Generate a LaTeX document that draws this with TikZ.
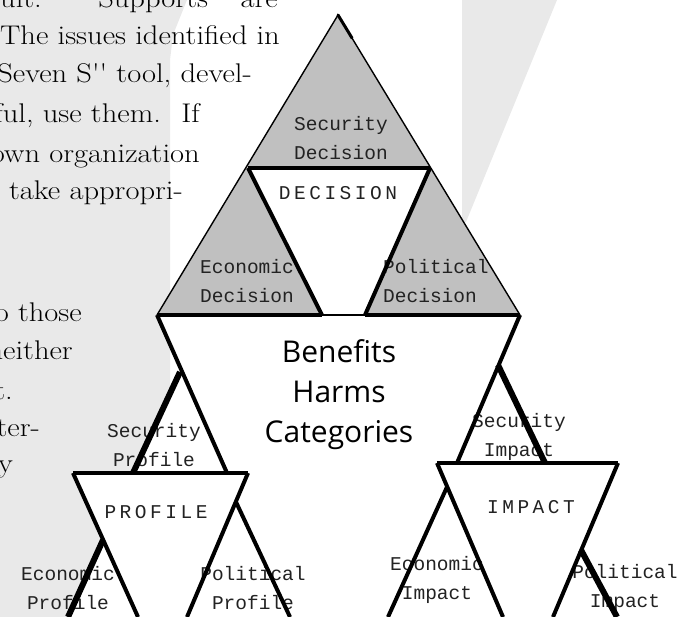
\documentclass[tikz,border=0pt]{standalone}
\usepackage{fontspec}
\newfontfamily\bodyfont[FakeStretch=1.13]{Latin Modern Roman}
\newfontfamily\labfont{Liberation Mono}
\newfontfamily\capfont[LetterSpace=18]{Liberation Mono}
\newfontfamily\bigfont{Open Sans}
\definecolor{bgray}{HTML}{E9E9E9}
\definecolor{tgray}{HTML}{C0C0C0}
\definecolor{labcol}{HTML}{222222}
\begin{document}
\begin{tikzpicture}[x=1pt,y=-1pt,
  body/.style={font=\bodyfont\fontsize{27}{38}\selectfont, anchor=base east, inner sep=0},
  lab/.style={font=\labfont\fontsize{19.5}{29}\selectfont, text=labcol, align=center, inner sep=0},
  capl/.style={font=\capfont\fontsize{19.5}{29}\selectfont, text=labcol, inner sep=0},
  big/.style={font=\bigfont\fontsize{30}{40}\selectfont, align=center, inner sep=0},
  thinl/.style={line width=1.4pt},
  hline/.style={line width=3.2pt},
  thickl/.style={line width=4pt},
  heavy/.style={line width=6pt}]
\useasboundingbox (0,0) rectangle (683,617);
\clip (0,0) rectangle (683,617);
% background watermark shapes
\fill[bgray] (0,0) -- (187,0) -- (173,35) -- (170,60) -- (170,617) -- (0,617) -- cycle;
\fill[bgray] (462,0) -- (557,0) -- (466,222) -- (462,222) -- cycle;
% body text
\node[body] (t1) at (278,8) {ifficult.\hspace{0.6em} ``Supports''\hspace{0.3em} are};
\node[body] (t2) at (280,45) {The issues identified in};
\node[body] (t3) at (252,83) {Seven S'' tool, devel-};
\node[body] (t4) at (200,123) {useful, use them.\hspace{0.3em} If};
\node[body] (t5) at (200,163) {own organization};
\node[body] (t6) at (183,200) {to take appropri-};
\node[body] (t7) at (82,322) {to those};
\node[body] (t8) at (73,360) {neither};
\node[body] (t9) at (13,400) {it.};
\node[body] (t10) at (40,437) {inter-};
\node[body] (t11) at (13,473) {ify};
% vertices
\coordinate (A) at (338,15);
\coordinate (BL) at (157,315);
\coordinate (BR) at (520,315);
\coordinate (ML) at (248,168);
\coordinate (MR) at (430,168);
\coordinate (DL) at (322,315);
\coordinate (DR) at (365,315);
\coordinate (SPa) at (180,372);
\coordinate (SPl) at (133,473);
\coordinate (SPr) at (227,473);
\coordinate (PL) at (73,473);
\coordinate (PR) at (248,473);
\coordinate (PB1) at (138,617);
\coordinate (PB2) at (187,617);
\coordinate (EPa) at (103,540);
\coordinate (EPl) at (68,617);
\coordinate (PPa) at (236,502);
\coordinate (PPr) at (290,617);
\coordinate (SIa) at (498,365);
\coordinate (SIl) at (457,463);
\coordinate (SIr) at (545,463);
\coordinate (IL) at (437,463);
\coordinate (IR) at (618,463);
\coordinate (IB1) at (503,617);
\coordinate (IB2) at (553,617);
\coordinate (EIa) at (447,487);
\coordinate (EIl) at (388,617);
\coordinate (PIa) at (581,550);
\coordinate (PIr) at (617,617);
\coordinate (Atip) at (352,38);
% fills
\fill[white] (BL) -- (SPa) -- (SPl) -- (PL) -- (EPa) -- (EPl) -- (683,617) -- (683,315) -- cycle;
\fill[tgray] (A) -- (BL) -- (BR) -- cycle;
\fill[white] (ML) -- (MR) -- (DR) -- (DL) -- cycle;
% labels
\node[lab] (secdec) at (341,138) {Security\\Decision};
\node[capl] (decision) at (338,193) {DECISION};
\node[lab, align=left, anchor=west] (ecodec) at (200,281) {Economic\\Decision};
\node[lab, align=left, anchor=west] (poldec) at (383,281) {Political\\Decision};
\node[big] (ben) at (339,395) {Benefits\\Harms\\Categories};
\node[lab] (secpro) at (154,445) {Security\\Profile};
\node[capl] (profile) at (156,512) {PROFILE};
\node[lab] (ecopro) at (68,588) {Economic\\Profile};
\node[lab] (polpro) at (253,588) {Political\\Profile};
\node[lab] (secimp) at (519,437) {Security\\Impact};
\node[capl] (impact) at (531,507) {IMPACT};
\node[lab] (ecoimp) at (437,580) {Economic\\Impact};
\node[lab] (polimp) at (625,588) {Political\\Impact};
% lines
\draw[thinl] (BL) -- (A) -- (BR);
\draw[line width=3pt, line cap=round] (A) -- (Atip);
\draw[hline] (ML) -- (MR);
\draw[thickl] (ML) -- (DL);
\draw[thickl] (MR) -- (DR);
\draw[hline] (BL) -- (DL);
\draw[hline] (DR) -- (BR);
\draw[thinl] (DL) -- (DR);
\draw[thickl] (BL) -- (SPr);
\draw[thickl] (BR) -- (SIl);
\draw[heavy] (SPa) -- (SPl);
\draw[heavy] (SIa) -- (SIr);
\draw[hline] (PL) -- (PR);
\draw[thickl] (PL) -- (PB1);
\draw[thickl] (PR) -- (PB2);
\draw[heavy] (EPa) -- (EPl);
\draw[thickl] (PPa) -- (PPr);
\draw[hline] (IL) -- (IR);
\draw[thickl] (IL) -- (IB1);
\draw[thickl] (IR) -- (IB2);
\draw[thickl] (EIa) -- (EIl);
\draw[heavy] (PIa) -- (PIr);
\end{tikzpicture}
\end{document}
